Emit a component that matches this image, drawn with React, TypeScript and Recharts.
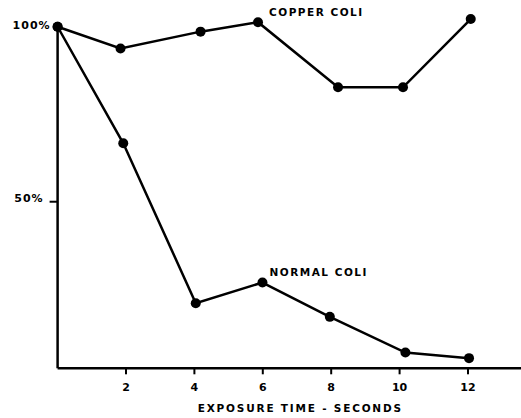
import React from 'react';
import { LineChart, Line, XAxis, YAxis, ReferenceLine, LabelList } from 'recharts';

const copperX = [0, 1.84, 4.18, 5.86, 8.2, 10.1, 12.08];
const copperY = [100, 93.8, 98.6, 101.3, 82.7, 82.7, 102.2];
const normalX = [0, 1.92, 4.04, 5.99, 7.96, 10.17, 12.03];
const normalY = [100, 66.7, 21.0, 26.9, 17.1, 6.9, 5.3];
const xTicks = [2, 4, 6, 8, 10, 12];
const yTicks = [50, 100];
const yTickLabels: Record<number, string> = { 50: '50%', 100: '100%' };
const copperLabel = 'COPPER COLI';
const normalLabel = 'NORMAL COLI';
const xTitle = 'EXPOSURE TIME - SECONDS';

const copperData = copperX.map((x, i) => ({ x, y: copperY[i] }));
const normalData = normalX.map((x, i) => ({ x, y: normalY[i] }));

const FONT = '"DejaVu Sans", sans-serif';

const YTick = (props: any) => {
  const { x, y, payload } = props;
  const v = payload.value;
  if (v === 50) {
    return (
      <g>
        <line x1={x - 8} x2={x} y1={y} y2={y} stroke="#000" strokeWidth={2} />
        <text x={x - 14} y={y - 3} textAnchor="end" dominantBaseline="middle" fontFamily={FONT} fontWeight="bold" fontSize={11} letterSpacing={1} fill="#000">
          {yTickLabels[v]}
        </text>
      </g>
    );
  }
  return (
    <text x={x - 7} y={y - 1} textAnchor="end" dominantBaseline="middle" fontFamily={FONT} fontWeight="bold" fontSize={11} letterSpacing={1} fill="#000">
      {yTickLabels[v]}
    </text>
  );
};

const XTick = (props: any) => {
  const { x, y, payload } = props;
  return (
    <text x={x} y={y} textAnchor="middle" dominantBaseline="hanging" fontFamily={FONT} fontWeight="bold" fontSize={11} fill="#000">
      {payload.value}
    </text>
  );
};

const XTitle = (props: any) => {
  const vb = props.viewBox || { x: 57.6, y: 368, width: 463, height: 50 };
  return (
    <text x={vb.x + vb.width / 2 + 11} y={vb.y + vb.height - 9} textAnchor="middle" dominantBaseline="middle" fontFamily={FONT} fontWeight="bold" fontSize={10.5} letterSpacing={1.8} fill="#000">
      {xTitle}
    </text>
  );
};

const makeSeriesLabel = (label: string, idx: number, dx: number, dy: number) => (props: any) => {
  const { x, y, index } = props;
  if (index !== idx) return null;
  return (
    <text x={x + dx} y={y + dy} dominantBaseline="middle" fontFamily={FONT} fontWeight="bold" fontSize={10.5} letterSpacing={1.5} fill="#000">
      {label}
    </text>
  );
};

const dotStyle = { r: 5, fill: '#000', stroke: '#000', strokeWidth: 0, clipDot: false };

export default function App() {
  return (
    <div style={{ position: 'absolute', left: 0, top: 0, background: '#fff' }}>
      <LineChart width={521} height={418} margin={{ top: 18, right: 0, bottom: 0, left: 0 }}>
        <XAxis
          type="number"
          dataKey="x"
          domain={[0, 13.55]}
          ticks={xTicks}
          height={49.7}
          axisLine={{ stroke: '#000', strokeWidth: 2.5 }}
          tickLine={{ stroke: '#000', strokeWidth: 2 }}
          tickSize={6}
          tickMargin={9}
          tick={<XTick />}
          label={<XTitle />}
        />
        <YAxis
          type="number"
          dataKey="y"
          domain={[2.4, 102.5]}
          ticks={yTicks}
          width={57.6}
          axisLine={false}
          tickLine={false}
          tickSize={0}
          tickMargin={0}
          tick={<YTick />}
        />
        <ReferenceLine segment={[{ x: 0, y: 2.4 }, { x: 0, y: 100 }]} stroke="#000" strokeWidth={2.5} />
        <Line
          data={copperData}
          dataKey="y"
          type="linear"
          stroke="#000"
          strokeWidth={2.5}
          dot={dotStyle}
          isAnimationActive={false}
        >
          <LabelList dataKey="y" content={makeSeriesLabel(copperLabel, 3, 11, -9)} />
        </Line>
        <Line
          data={normalData}
          dataKey="y"
          type="linear"
          stroke="#000"
          strokeWidth={2.5}
          dot={dotStyle}
          isAnimationActive={false}
        >
          <LabelList dataKey="y" content={makeSeriesLabel(normalLabel, 3, 7, -10)} />
        </Line>
      </LineChart>
    </div>
  );
}
